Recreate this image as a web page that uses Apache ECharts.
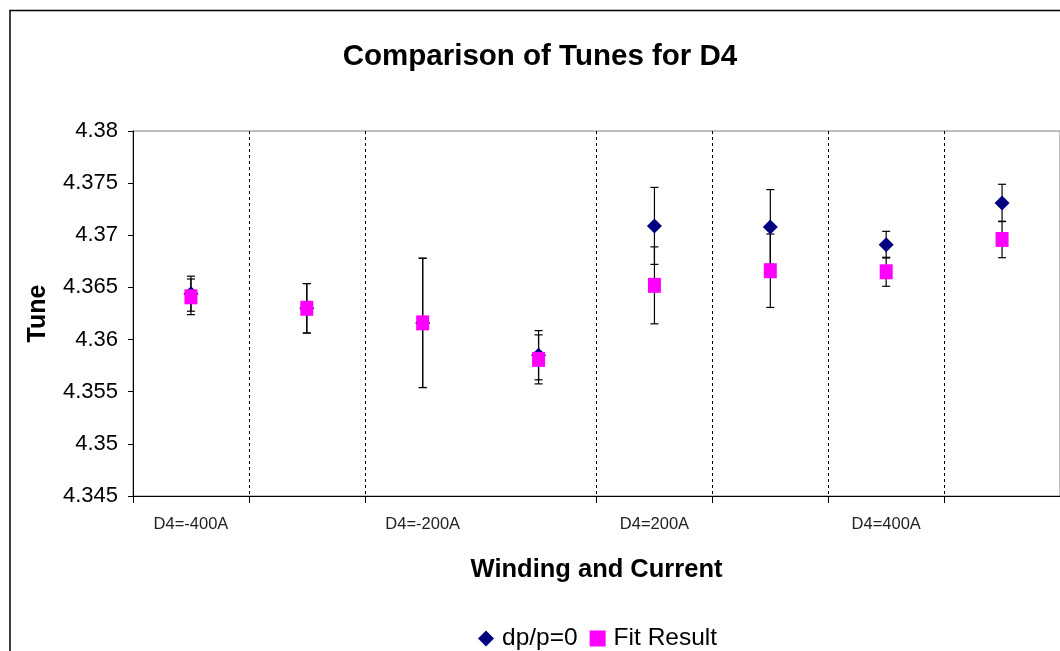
<!DOCTYPE html>
<html>
<head>
<meta charset="utf-8">
<script src="https://cdn.jsdelivr.net/npm/echarts@6/dist/echarts.min.js"></script>
<style>
html,body{margin:0;padding:0;background:#fff;}
#chart{width:1060px;height:651px;}
</style>
</head>
<body>
<div id="chart"></div>
<script>
// Data
var categories = ['D4=-400A', '', 'D4=-200A', '', 'D4=200A', '', 'D4=400A', ''];
var dpValues  = [4.3644, 4.3630, 4.3616, 4.3585, 4.3709, 4.3708, 4.3691, 4.3731];
var dpErr     = [0.00168, 0.00237, 0.0062, 0.00236, 0.00369, 0.00358, 0.00128, 0.00179];
var fitValues = [4.3641, 4.3630, 4.3616, 4.3581, 4.3652, 4.3666, 4.3665, 4.3696];
var fitErr    = [0.00171, 0.00237, 0.0062, 0.00235, 0.00369, 0.00352, 0.00139, 0.00175];
var yMin = 4.345, yMax = 4.38, yStep = 0.005;

var FONT = "'Liberation Sans', Arial, sans-serif";

function errData(vals, errs) {
  return vals.map(function (v, i) { return [i, v - errs[i], v + errs[i]]; });
}

function renderErr(params, api) {
  var x = api.value(0);
  var lo = api.coord([x, api.value(1)]);
  var hi = api.coord([x, api.value(2)]);
  var cap = 4;
  var st = { stroke: '#000', lineWidth: 1.2 };
  return {
    type: 'group',
    children: [
      { type: 'line', shape: { x1: lo[0], y1: lo[1], x2: hi[0], y2: hi[1] }, style: st },
      { type: 'line', shape: { x1: lo[0] - cap, y1: lo[1], x2: lo[0] + cap, y2: lo[1] }, style: st },
      { type: 'line', shape: { x1: hi[0] - cap, y1: hi[1], x2: hi[0] + cap, y2: hi[1] }, style: st }
    ]
  };
}

var chart = echarts.init(document.getElementById('chart'), null, { renderer: 'canvas' });
chart.setOption({
  backgroundColor: '#fff',
  animation: false,
  textStyle: { fontFamily: FONT },
  title: {
    text: 'Comparison of Tunes for D4',
    left: 535,
    textAlign: 'center',
    top: 37,
    textStyle: { fontFamily: FONT, fontSize: 29.5, fontWeight: 'bold', color: '#000' }
  },
  graphic: [{
    type: 'rect',
    shape: { x: 10, y: 10.5, width: 1200, height: 800 },
    style: { fill: 'none', stroke: '#000', lineWidth: 1.5 },
    silent: true,
    z: 100
  }],
  legend: {
    data: ['dp/p=0', 'Fit Result'],
    left: 473,
    top: 621,
    itemGap: 12,
    itemWidth: 16,
    itemHeight: 16,
    textStyle: { fontFamily: FONT, fontSize: 24.5, color: '#000', padding: [0, 0, 0, 3] }
  },
  grid: {
    left: 133, top: 131, right: -3, bottom: 155,
    show: true, borderColor: '#808080', borderWidth: 1, backgroundColor: 'transparent'
  },
  xAxis: {
    type: 'category',
    data: categories,
    boundaryGap: true,
    name: 'Winding and Current',
    nameLocation: 'middle',
    nameGap: 61,
    nameTextStyle: { fontFamily: FONT, fontSize: 25.5, fontWeight: 'bold', color: '#000' },
    axisLine: { lineStyle: { color: '#000', width: 1 } },
    axisTick: { show: true, length: 7, interval: function (i) { return i !== 3; }, lineStyle: { color: '#000' } },
    axisLabel: { interval: 0, margin: 20, fontFamily: FONT, fontSize: 16.5, color: '#222' },
    splitLine: {
      show: true,
      interval: function (i) { return i !== 0 && i !== 3; },
      lineStyle: { color: '#000', type: [3, 3], width: 1 }
    }
  },
  yAxis: {
    type: 'value',
    min: yMin, max: yMax, interval: yStep,
    name: 'Tune',
    nameLocation: 'middle',
    nameGap: 82,
    nameTextStyle: { fontFamily: FONT, fontSize: 25, fontWeight: 'bold', color: '#000' },
    axisLine: { show: true, lineStyle: { color: '#000', width: 1 } },
    axisTick: { show: true, length: 5, lineStyle: { color: '#000' } },
    axisLabel: {
      margin: 15, fontFamily: FONT, fontSize: 22, color: '#000',
      formatter: function (v) { return String(parseFloat(v.toFixed(3))); }
    },
    splitLine: { show: false }
  },
  series: [
    { type: 'custom', name: 'errDp', data: errData(dpValues, dpErr), renderItem: renderErr, z: 1, silent: true },
    { type: 'custom', name: 'errFit', data: errData(fitValues, fitErr), renderItem: renderErr, z: 1, silent: true },
    {
      type: 'scatter', name: 'dp/p=0', data: dpValues,
      symbol: 'diamond', symbolSize: [15, 15],
      itemStyle: { color: '#000080', opacity: 1 }, z: 3
    },
    {
      type: 'scatter', name: 'Fit Result', data: fitValues,
      symbol: 'rect', symbolSize: [13, 15],
      itemStyle: { color: '#FF00FF', opacity: 1 }, z: 4
    }
  ]
});
</script>
</body>
</html>
